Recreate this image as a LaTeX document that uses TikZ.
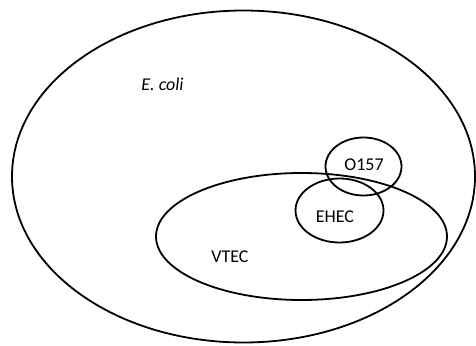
\documentclass[tikz,border=0pt]{standalone}
\usepackage{fontspec}
\setmainfont{Carlito}
\begin{document}
\begin{tikzpicture}[x=1pt,y=-1pt,
  setline/.style={draw=black,line width=1.8pt},
  lbl/.style={font=\fontsize{18}{20}\selectfont,inner sep=0pt}]
\useasboundingbox (0,0) rectangle (476,345);
\draw[setline] (243.5,176.5) ellipse [x radius=231.5, y radius=166];
\draw[setline] (301.5,236.5) ellipse [x radius=145.5, y radius=63.5];
\draw[setline] (339.5,210.5) ellipse [x radius=44, y radius=32];
\draw[setline] (363.5,166.5) ellipse [x radius=38, y radius=29];
\node[lbl] (ecoli) at (162.5,84) {\itshape E. coli};
\node[lbl] (o157) at (364,165) {O157};
\node[lbl] (ehec) at (335,217) {EHEC};
\node[lbl] (vtec) at (230,257) {VTEC};
\end{tikzpicture}
\end{document}
